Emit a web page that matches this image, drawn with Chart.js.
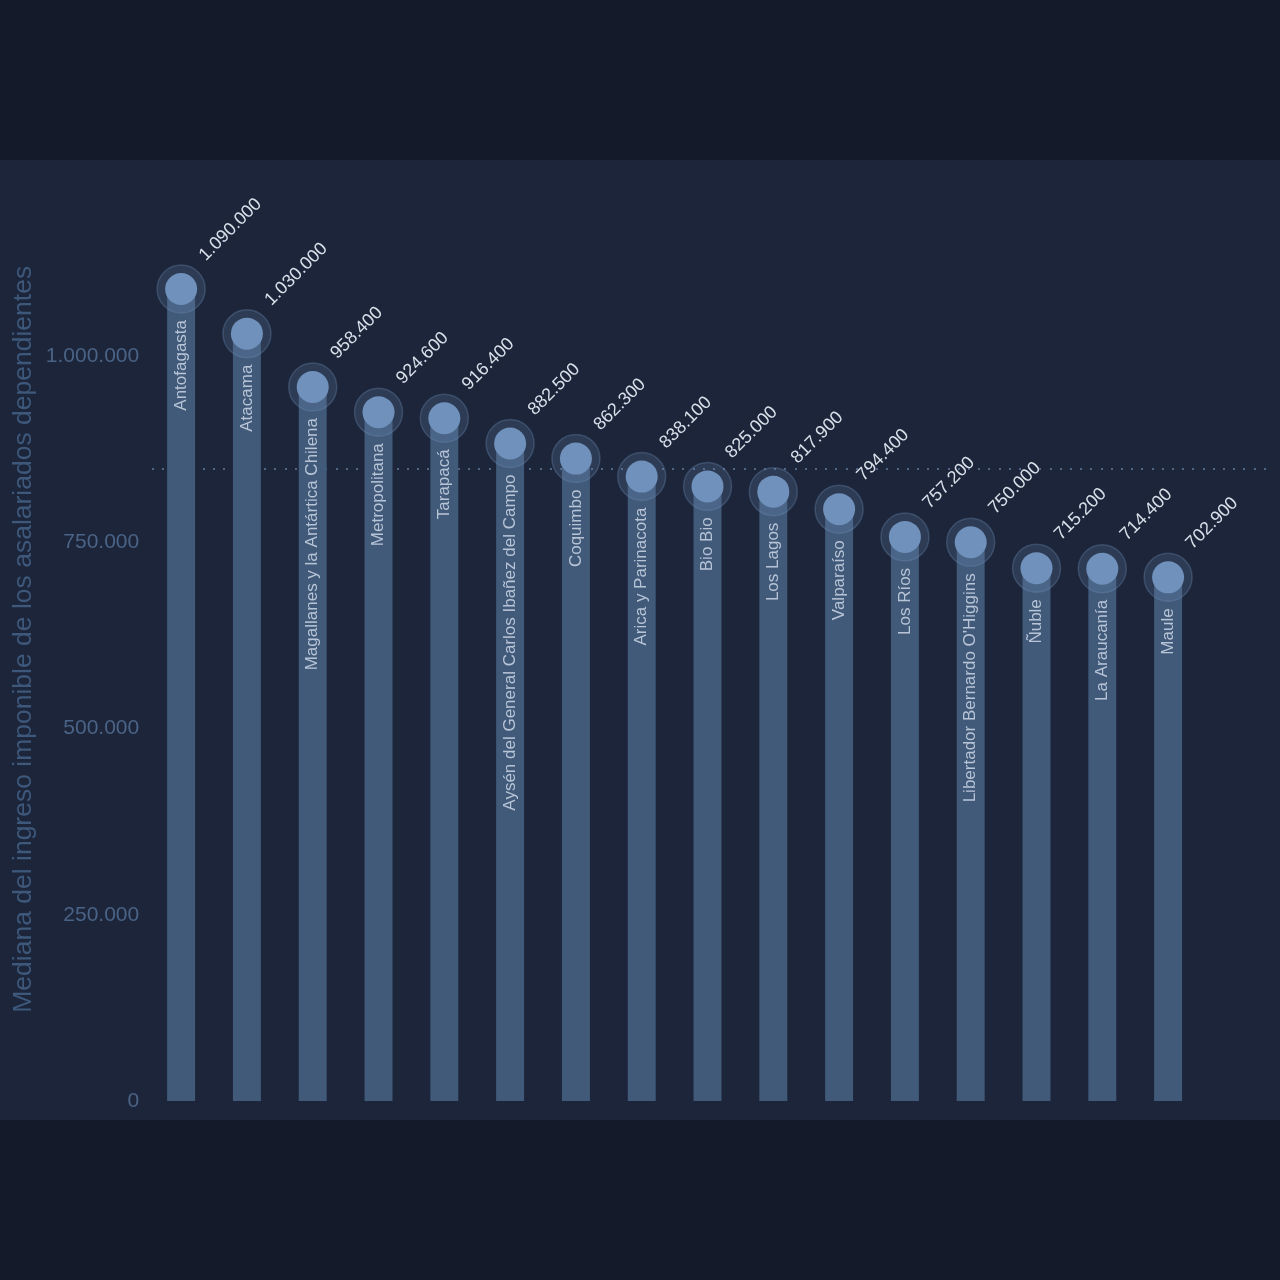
<!DOCTYPE html>
<html><head><meta charset="utf-8">
<script src="https://cdn.jsdelivr.net/npm/chart.js@4"></script>
<style>
html,body{margin:0;padding:0;background:#151a2b;width:1280px;height:1280px;overflow:hidden}
#wrap{position:absolute;left:0;top:160px;width:1280px;height:960px;background:#1c2539}
</style></head><body>
<div id="wrap"><canvas id="c" width="1280" height="960"></canvas></div>
<script>
const categories = ["Antofagasta","Atacama","Magallanes y la Antártica Chilena","Metropolitana","Tarapacá","Aysén del General Carlos Ibañez del Campo","Coquimbo","Arica y Parinacota","Bio Bio","Los Lagos","Valparaíso","Los Ríos","Libertador Bernardo O'Higgins","Ñuble","La Araucanía","Maule"];
const values = [1090000,1030000,958400,924600,916400,882500,862300,838100,825000,817900,794400,757200,750000,715200,714400,702900];
const yTicks = [0,250000,500000,750000,1000000];
const yTitle = "Mediana del ingreso imponible de los asalariados dependientes";

const fmt = v => v.toString().replace(/\B(?=(\d{3})+(?!\d))/g, ".");
const mean = values.reduce((a,b)=>a+b,0)/values.length;

const FONT = "'Liberation Sans', Arial, Helvetica, sans-serif";

const overlay = {
  id:'overlay',
  beforeDatasetsDraw(chart){
    const {ctx, scales:{y}} = chart;
    const yy = Math.round(y.getPixelForValue(mean));
    ctx.save();
    ctx.fillStyle = 'rgba(90,118,155,0.8)';
    for(let x = 152; x < 1268; x += 10.2){
      ctx.fillRect(Math.round(x), yy-1, 2, 2);
    }
    ctx.restore();
  },
  afterDatasetsDraw(chart){
    const {ctx} = chart;
    const meta = chart.getDatasetMeta(2);
    ctx.save();
    meta.data.forEach((pt,i)=>{
      ctx.save();
      ctx.translate(pt.x, pt.y + 31);
      ctx.rotate(-Math.PI/2);
      ctx.font = "17px " + FONT;
      ctx.fillStyle = 'rgba(205,215,230,0.85)';
      ctx.textAlign = 'right';
      ctx.textBaseline = 'middle';
      ctx.fillText(categories[i], 0, 0);
      ctx.restore();
      ctx.save();
      ctx.translate(pt.x + 21, pt.y - 31);
      ctx.rotate(-Math.PI/4);
      ctx.font = "18px " + FONT;
      ctx.fillStyle = '#d8e0ea';
      ctx.textAlign = 'left';
      ctx.textBaseline = 'middle';
      ctx.fillText(fmt(values[i]), 0, 0);
      ctx.restore();
    });
    ctx.restore();
  }
};

new Chart(document.getElementById('c'), {
  data:{
    labels: categories,
    datasets:[
      {type:'bar', data: values, backgroundColor:'#415a7a', barPercentage:0.85, categoryPercentage:0.5, order:3, grouped:false},
      {type:'line', data: values, showLine:false, pointRadius:24, pointHoverRadius:24, pointBackgroundColor:'rgba(111,143,184,0.22)', pointBorderColor:'rgba(111,143,184,0.32)', pointBorderWidth:1.5, order:2},
      {type:'line', data: values, showLine:false, pointRadius:16, pointHoverRadius:16, pointBackgroundColor:'#7091bb', pointBorderWidth:0, order:1}
    ]
  },
  options:{
    responsive:false,
    animation:false,
    events:[],
    layout:{autoPadding:false, padding:{top:47, right:79, bottom:19, left:8}},
    plugins:{legend:{display:false}, tooltip:{enabled:false}},
    scales:{
      x:{display:false},
      y:{min:0, max:1200000, afterBuildTicks(ax){ ax.ticks = yTicks.map(v=>({value:v})); },
        grid:{display:false}, border:{display:false},
        ticks:{color:'#4a6386', font:{family:FONT, size:21}, padding:1, callback:v=>fmt(v)},
        title:{display:true, text:"    " + yTitle, color:'#3e587b', font:{family:FONT, size:26.5}, padding:{top:0,bottom:5}}
      }
    }
  },
  plugins:[overlay]
});
</script>
</body></html>
